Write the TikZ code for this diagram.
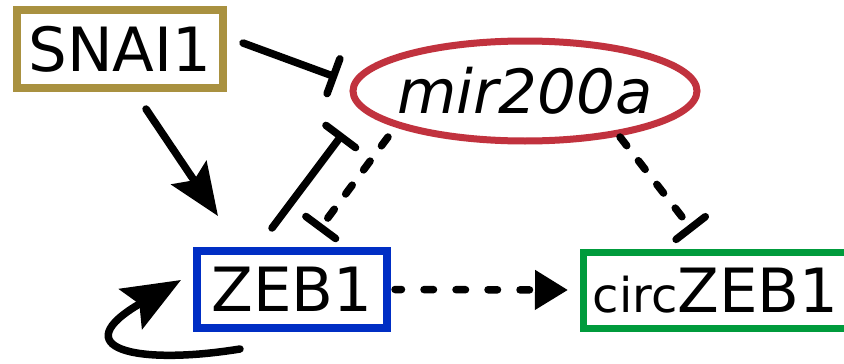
\documentclass[tikz,border=0pt]{standalone}
\usepackage{fontspec}
\setmainfont{DejaVu Sans}
\usetikzlibrary{arrows.meta,shapes.geometric,calc}
\definecolor{snaigold}{RGB}{169,145,64}
\definecolor{mirred}{RGB}{193,50,62}
\definecolor{zebblue}{RGB}{0,46,196}
\definecolor{circgreen}{RGB}{0,155,60}
\begin{document}
\begin{tikzpicture}[x=1pt,y=-1pt,
  bigtext/.style={font=\fontsize{61}{61}\selectfont, text height=44.5pt, text depth=0pt, inner sep=0pt},
  genebox/.style={bigtext, draw, rectangle, line width=8pt},
  link/.style={line width=7.5pt, line cap=round},
  inhib/.style={link, -{Bar[width=37pt,round]}},
  act/.style={link, -{Stealth[length=52pt,width=42pt,inset=9pt]}},
  loopact/.style={link, -{Stealth[length=58pt,width=46pt,inset=10pt]}},
  tri/.style={link, -{Triangle[length=33pt,width=38pt]}},
  dashline/.style={dash pattern=on 11pt off 19pt},
  dotline/.style={dash pattern=on 9.5pt off 22.5pt, dash phase=3pt}]
\useasboundingbox (0,0) rectangle (844,364);
\clip (0,0) rectangle (844,364);
\fill[white] (0,0) rectangle (844,364);

% gene and miRNA nodes
\node[genebox, draw=snaigold, minimum width=206pt, minimum height=78pt] (snai) at (120,49) {SNAI1};
\node[bigtext, ellipse, draw=mirred, line width=7pt, minimum width=344pt, minimum height=100pt] (mir) at (525,91) {\makebox[0pt]{\itshape mir200a}};
\node[genebox, draw=zebblue, minimum width=190pt, minimum height=77pt] (zeb) at (292,289.5) {ZEB1};
\node[genebox, draw=circgreen, line width=7pt, minimum width=265pt, minimum height=76pt] (circ) at (715.5,290) {{\fontsize{48}{48}\selectfont circ}ZEB1};

% regulatory links
\draw[inhib] ($(snai.east)+(16,-6)$) -- ($(mir.west)+(-12.5,-13.5)$);
\draw[act] ($(snai.south)+(26,17)$) -- ($(zeb.north west)+(25,-31)$);
\draw[inhib] ($(zeb.north)+(-20,-19)$) -- ($(mir.west)+(-6.5,42.5)$);
\draw[inhib, dashline] ($(mir.west)+(38.5,46)$) -- ($(zeb.north)+(26.5,-16.5)$);
\draw[inhib, dashline] ($(mir.center)+(95,46)$) -- ($(circ.north)+(-22.5,-17.5)$);
\draw[tri, dotline] ($(zeb.east)+(4,0)$) -- ($(circ.west)+(-11.5,0)$);
% ZEB1 self-activation loop
\draw[loopact] ($(zeb.south)+(-52,17)$) .. controls +(-105,17) and +(-118,68) .. ($(zeb.west)+(-12,-9.5)$);
\end{tikzpicture}
\end{document}
